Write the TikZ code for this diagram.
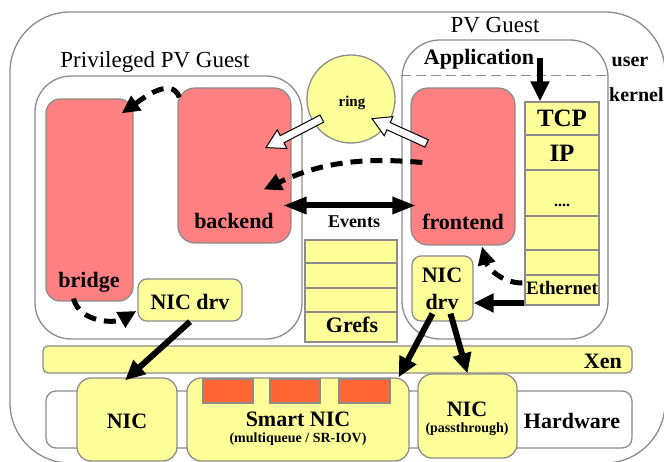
\documentclass[tikz,border=0pt]{standalone}
\usepackage{fontspec}
\setmainfont{Liberation Serif}
\usetikzlibrary{positioning}
\usetikzlibrary{fit}
\usetikzlibrary{arrows.meta}
\usetikzlibrary{shapes.arrows}
\definecolor{boxred}{HTML}{FF8080}
\definecolor{boxyellow}{HTML}{FFFF99}
\definecolor{edgegray}{HTML}{8C8C8C}
\definecolor{chiporange}{HTML}{FF6633}
\tikzset{
box/.style={ % gray outlined shapes
draw=edgegray,
line width=1.3pt,
inner sep=0pt},
guest/.style={box, rounded corners=36pt},
redbox/.style={box, fill=boxred, rounded corners=17pt},
yelbox/.style={box, fill=boxyellow, rounded corners=9pt},
hwbox/.style={box, fill=boxyellow, rounded corners=14pt},
cell/.style={box, fill=boxyellow},
chip/.style={box, fill=chiporange},
lbl/.style={font=\bfseries\fontsize{22}{24}\selectfont, inner sep=0pt, anchor=base},
small/.style={font=\bfseries\fontsize{14}{16}\selectfont, inner sep=0pt, anchor=base},
plain/.style={font=\fontsize{23}{26}\selectfont, inner sep=0pt, anchor=base},
fat/.style={line width=6pt, -{Triangle[length=20pt,width=18pt]}},
dashy/.style={line width=5pt, dash pattern=on 12pt off 8pt, -{Triangle[length=18pt,width=17pt]}},
hollow/.style={single arrow, draw=black, fill=white, line width=1pt,
minimum width=0pt, inner xsep=0pt, inner ysep=3.5pt, single arrow head extend=6.5pt,
single arrow tip angle=60}
}

\begin{document}
\begin{tikzpicture}[x=1pt,y=1pt]
\useasboundingbox (0,0) rectangle (664,-462);

% domains
\node[guest, rounded corners=60pt, fit={(10,-12)(665,-463)}] (host) {};
\node[guest, fit={(35,-76)(302,-339)}] (priv) {};
\node[guest, rounded corners=38pt, fit={(402,-40)(608,-339)}] (pvg) {};
\draw[edgegray, line width=1.3pt, dash pattern=on 10pt off 5pt] ([yshift=-36pt]pvg.north west) -- ([yshift=-36pt]pvg.north east);
\node[plain] (privtxt) at (155,-68) {Privileged PV Guest};
\node[plain] (pvgtxt) at (495,-33) {PV Guest};
\node[lbl, font=\bfseries\fontsize{20}{22}\selectfont] (user) at (630,-67) {user};
\node[lbl, font=\bfseries\fontsize{20}{22}\selectfont, anchor=base west] (kernel) at (609,-102) {kernel};

% privileged guest
\node[redbox, rounded corners=14pt, fit={(46,-99)(133,-301)}] (bridge) {};
\node[redbox, fit={(178,-88)(291,-243)}] (backend) {};
\node[yelbox, fit={(138,-279)(242,-321)}] (nicdrvL) {};
\node[lbl] (bridgetxt) at (89,-288) {bridge};
\node[lbl] (backendtxt) at (234,-229) {backend};
\node[lbl] (nicdrvLtxt) at (190,-310) {NIC drv};

% shared ring, events, grant refs
\node[box, circle, fill=boxyellow, minimum size=88pt] (ring) at (351,-99) {};
\node[lbl, font=\bfseries\fontsize{15}{17}\selectfont] (ringtxt) at (352,-107) {ring};
\node[lbl, font=\bfseries\fontsize{18}{20}\selectfont] (events) at (354,-228) {Events};
\foreach \nm/\top/\bot in {g1/240/263, g2/263/288, g3/288/312, g4/312/342}
  \node[cell, fit={(305,-\top)(397,-\bot)}] (\nm) {};
\node[lbl] (grefs) at (352,-333) {Grefs};

% PV guest
\node[lbl] (app) at (479,-65) {Application};
\coordinate (appout) at (540,-58);
\node[redbox, fit={(411,-88)(515,-245)}] (frontend) {};
\node[lbl] (frontendtxt) at (463,-230) {frontend};
\foreach \nm/\top/\bot in {tcp/102/135, ip/135/170, dots/170/216, s4/216/250, s5/250/275, eth/275/305}
  \node[cell, fit={(525,-\top)(599,-\bot)}] (\nm) {};
\node[lbl, font=\bfseries\fontsize{25}{27}\selectfont] (tcptxt) at (562,-127) {TCP};
\node[lbl, font=\bfseries\fontsize{25}{27}\selectfont] (iptxt) at (562,-162) {IP};
\node[lbl, font=\bfseries\fontsize{16}{18}\selectfont] (dotstxt) at (562,-207) {....};
\node[lbl, font=\bfseries\fontsize{19}{21}\selectfont] (ethtxt) at (562,-295) {Ethernet};
\node[yelbox, fit={(412,-256)(473,-321)}] (nicdrvR) {};
\node[lbl] (nicdrvRa) at (442,-283) {NIC};
\node[lbl] (nicdrvRb) at (442,-309) {drv};

% hypervisor and hardware
\node[yelbox, rounded corners=5pt, fit={(43,-346)(632,-373)}] (xen) {};
\node[lbl, anchor=base east] (xentxt) at (622,-368) {Xen};
\node[box, fill=white, rounded corners=10pt, fit={(46,-391)(632,-448)}] (hw) {};
\node[lbl] (hwtxt) at (572,-428) {Hardware};
\node[hwbox, fit={(77,-378)(177,-461)}] (nic) {};
\node[lbl] (nictxt) at (127,-428) {NIC};
\node[hwbox, fit={(187,-378)(409,-461)}] (smart) {};
\foreach \nm/\l/\r in {q1/203/253, q2/270/320, q3/339/390}
  \node[chip, fit={(\l,-379)(\r,-403)}] (\nm) {};
\node[lbl] (smarttxt) at (298,-426) {Smart NIC};
\node[small] (smartsub) at (298,-442) {(multiqueue / SR-IOV)};
\node[hwbox, fit={(418,-374)(517,-458)}] (pass) {};
\node[lbl] (passtxt) at (467,-416) {NIC};
\node[small] (passsub) at (467,-432) {(passthrough)};

% data path
\draw[fat] (appout) -- (appout |- tcp.north);
\draw[fat] ([yshift=-13pt]eth.west) -- ([yshift=-13pt]eth.west -| nicdrvR.east);
\draw[fat] (nicdrvL.south) -- ([xshift=-2pt,yshift=-3pt]nic.north);
\draw[fat] ([xshift=-10pt,yshift=8pt]nicdrvR.south) -- ([xshift=-11pt]smart.north east);
\draw[fat] ([xshift=8pt,yshift=8pt]nicdrvR.south) -- (pass.north);
\draw[line width=6pt, {Triangle[length=24pt,width=16pt]}-{Triangle[length=24pt,width=16pt]}]
  ([xshift=-9pt,yshift=-40pt]backend.east) -- ([xshift=6pt,yshift=-40pt]backend.east -| frontend.west);

% notifications
\draw[dashy] ([xshift=2pt,yshift=-10pt]backend.north west) to[out=110,in=35] ([xshift=-12pt,yshift=-15pt]bridge.north east);
\draw[dashy] ([xshift=12pt,yshift=4pt]frontend.west) to[out=175,in=25] ([xshift=-28pt,yshift=-24pt]backend.east);
\draw[dashy] ([xshift=-16pt,yshift=3pt]bridge.south) to[out=-75,in=210] ([xshift=-1pt,yshift=-11pt]nicdrvL.west);
\draw[dashy] ([xshift=-2pt,yshift=7pt]eth.west) to[out=180,in=-75] ([xshift=19pt,yshift=-1pt]frontend.south);

% ring requests
\node[hollow, minimum height=60pt, rotate=155.6] (toring) at (402.5,-132.5) {};
\node[hollow, minimum height=63pt, rotate=207.4] (fromring) at (297,-131.5) {};
\end{tikzpicture}
\end{document}
